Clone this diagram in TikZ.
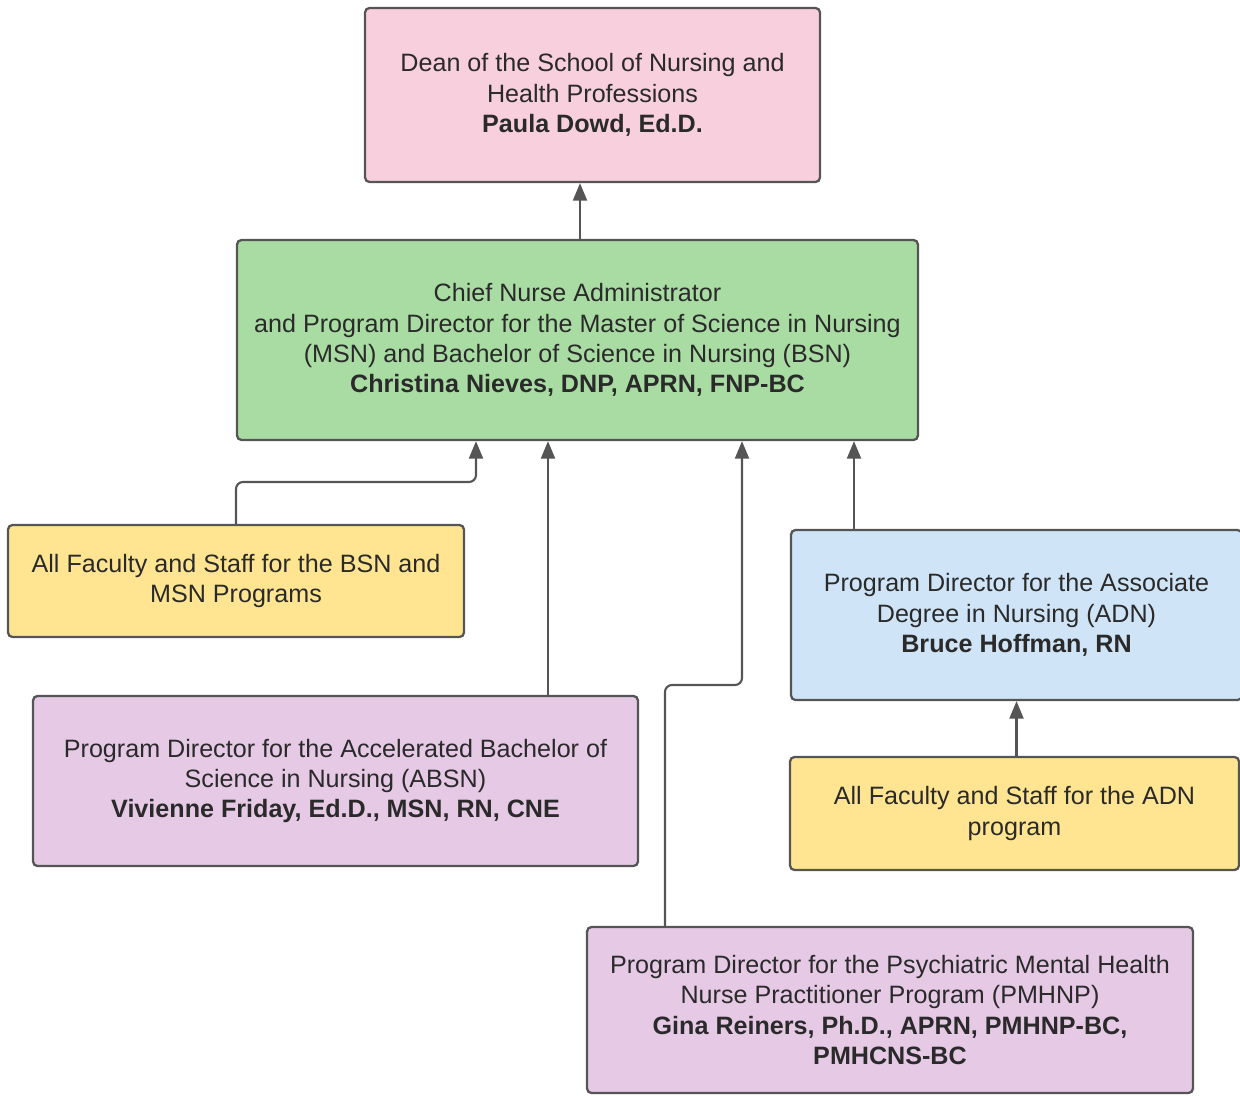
\documentclass[tikz,border=0pt]{standalone}
\usepackage{fontspec}
\setmainfont{Liberation Sans}
\usepackage{tikz}
\usetikzlibrary{arrows.meta,positioning,calc}
\definecolor{pink}{HTML}{F7CFDD}
\definecolor{green}{HTML}{A9DCA3}
\definecolor{yellow}{HTML}{FFE591}
\definecolor{blue}{HTML}{CFE4F6}
\definecolor{purple}{HTML}{E5C9E5}
\definecolor{edge}{HTML}{555555}
\definecolor{ink}{HTML}{2A2A2A}
\tikzset{
  box/.style={draw=edge,line width=1.3pt,rounded corners=2.5pt,align=center,
    text=ink,inner sep=0pt,font=\fontsize{14.3}{17.2}\selectfont},
  link/.style={draw=edge,line width=1.2pt,rounded corners=4pt,
    -{Triangle[width=8pt,length=10pt]}}
}

\begin{document}
\begin{tikzpicture}[x=0.02cm,y=-0.02cm]
  \useasboundingbox (0,0) rectangle (1240,1095);
  \node[box,fill=pink,minimum width=9.1cm,minimum height=3.48cm] (dean) at (592.5,95)
    {Dean of the School of Nursing and\\Health Professions\\\textbf{Paula Dowd, Ed.D.}};
  \node[box,fill=green,minimum width=13.62cm,minimum height=4cm] (chief) at (577.5,340)
    {Chief Nurse Administrator\\and Program Director for the Master of Science in Nursing\\(MSN) and Bachelor of Science in Nursing (BSN)\\\textbf{Christina Nieves, DNP, APRN, FNP-BC}};
  \node[box,fill=yellow,minimum width=9.12cm,minimum height=2.24cm] (facbsn) at (236,581)
    {All Faculty and Staff for the BSN and\\MSN Programs};
  \node[box,fill=purple,minimum width=12.1cm,minimum height=3.4cm] (absn) at (335.5,781)
    {Program Director for the Accelerated Bachelor of\\Science in Nursing (ABSN)\\\textbf{Vivienne Friday, Ed.D., MSN, RN, CNE}};
  \node[box,fill=purple,minimum width=12.12cm,minimum height=3.32cm] (pmhnp) at (890,1010)
    {Program Director for the Psychiatric Mental Health\\Nurse Practitioner Program (PMHNP)\\\textbf{Gina Reiners, Ph.D., APRN, PMHNP-BC,}\\\textbf{PMHCNS-BC}};
  \node[box,fill=blue,minimum width=9.02cm,minimum height=3.4cm] (adn) at (1016.5,615)
    {Program Director for the Associate\\Degree in Nursing (ADN)\\\textbf{Bruce Hoffman, RN}};
  \node[box,fill=yellow,minimum width=8.98cm,minimum height=2.26cm] (facadn) at (1014.5,813.5)
    {All Faculty and Staff for the ADN\\program};
  % reporting lines
  \coordinate (b1) at (476,482);
  \coordinate (b2) at (742,685);
  \coordinate (xa) at (548,0);
  \coordinate (xd) at (854,0);
  \coordinate (xp) at (665,0);
  \draw[link] (chief.north -| 580,0) -- (dean.south -| 580,0);
  \draw[link] (facbsn.north) |- (b1) -- (b1 |- chief.south);
  \draw[link] (xa |- absn.north) -- (xa |- chief.south);
  \draw[link] (xp |- pmhnp.north) |- (b2) -- (b2 |- chief.south);
  \draw[link] (xd |- adn.north) -- (xd |- chief.south);
  \draw[link] (facadn.north -| adn.south) -- (adn.south);
\end{tikzpicture}
\end{document}
